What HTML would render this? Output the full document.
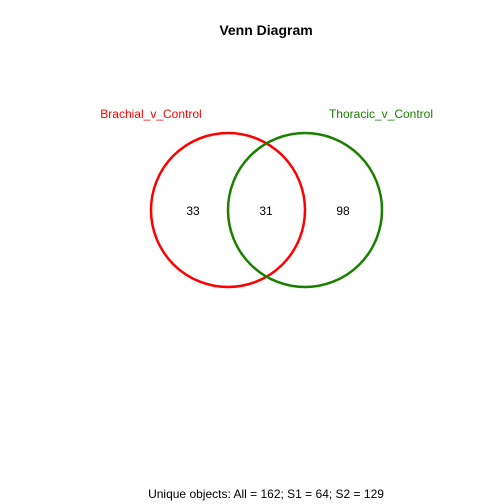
<!DOCTYPE html>
<html><head><meta charset="utf-8"><style>
html,body{margin:0;padding:0;background:#fff;}
svg{display:block;font-family:"Liberation Sans",Arial,sans-serif;}
</style></head><body>
<svg id="chart" width="504" height="504" viewBox="0 0 504 504">
<text x="266" y="35" text-anchor="middle" font-size="14" font-weight="bold">Venn Diagram</text>
<g id="marks"></g>
<text x="266" y="498" text-anchor="middle" font-size="12">Unique objects: All = 162; S1 = 64; S2 = 129</text>
</svg>
<script>
const setNames = ["Brachial_v_Control", "Thoracic_v_Control"];
const setColors = ["#ff0000", "#1a8000"];
const regionCounts = [33, 31, 98];
const ns = "http://www.w3.org/2000/svg";
const g = document.getElementById("marks");
const cy = 210, r = 77;
const centers = [228, 305];
centers.forEach((cx, i) => {
  const c = document.createElementNS(ns, "circle");
  c.setAttribute("cx", cx); c.setAttribute("cy", cy); c.setAttribute("r", r);
  c.setAttribute("fill", "none"); c.setAttribute("stroke", setColors[i]); c.setAttribute("stroke-width", "2.5");
  
  
  g.appendChild(c);
  const t = document.createElementNS(ns, "text");
  t.setAttribute("x", i === 0 ? 151 : 381); t.setAttribute("y", 118);
  t.setAttribute("text-anchor", "middle"); t.setAttribute("font-size", "12"); t.setAttribute("fill", setColors[i]);
  t.textContent = setNames[i];
  
  
  g.appendChild(t);
});
const regionX = [193, 266, 343];
regionCounts.forEach((v, i) => {
  const t = document.createElementNS(ns, "text");
  t.setAttribute("x", regionX[i]); t.setAttribute("y", 215);
  t.setAttribute("text-anchor", "middle"); t.setAttribute("font-size", "12");
  t.textContent = v;
  
  
  g.appendChild(t);
});
</script>
</body></html>
